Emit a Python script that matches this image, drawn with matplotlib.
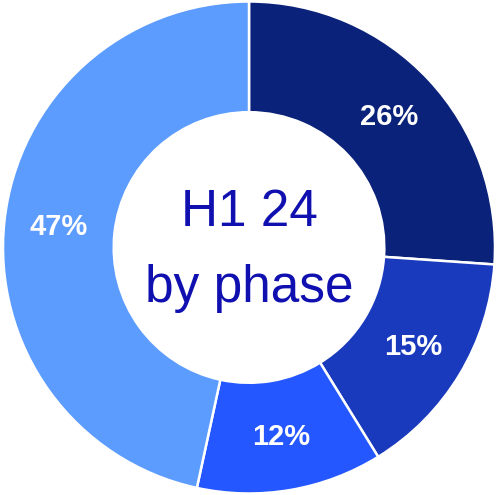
"""Donut chart: H1 24 by phase."""

import matplotlib

matplotlib.use("Agg")
import matplotlib.pyplot as plt

PHASES = ["Phase A", "Phase B", "Phase C", "Phase D"]
SHARES = [26.1, 15.1, 12.2, 46.6]
COLORS = ["#0a2279", "#1a3abd", "#2457ff", "#5c9cff"]
CENTER_LINES = ["H1 24", "by phase"]

plt.rcParams["font.family"] = ["Liberation Sans", "DejaVu Sans"]


def main() -> int:
    fig = plt.figure(figsize=(4.98, 4.95), dpi=100)
    ax = fig.add_axes([0, 0, 1, 1])

    ax.pie(
        SHARES,
        colors=COLORS,
        startangle=90,
        counterclock=False,
        radius=1.0,
        autopct="%.0f%%",
        pctdistance=0.78,
        wedgeprops=dict(width=0.45, edgecolor="white", linewidth=1.8),
        textprops=dict(color="white", fontsize=21, fontweight="bold"),
    )

    # two lines of centre text, placed by baseline
    ax.text(0, 0.087, CENTER_LINES[0], ha="center", va="baseline",
            fontsize=37, color="#1010b0")
    ax.text(0, -0.222, CENTER_LINES[1], ha="center", va="baseline",
            fontsize=37, color="#1010b0")

    scale = 246.0
    ax.set_xlim(-249 / scale, 249 / scale)
    ax.set_ylim(-247.5 / scale, 247.5 / scale)
    ax.set_aspect("auto")
    ax.axis("off")

    fig.savefig("out.png", dpi=100)
    plt.close(fig)
    return 0


if __name__ == "__main__":
    raise SystemExit(main())
